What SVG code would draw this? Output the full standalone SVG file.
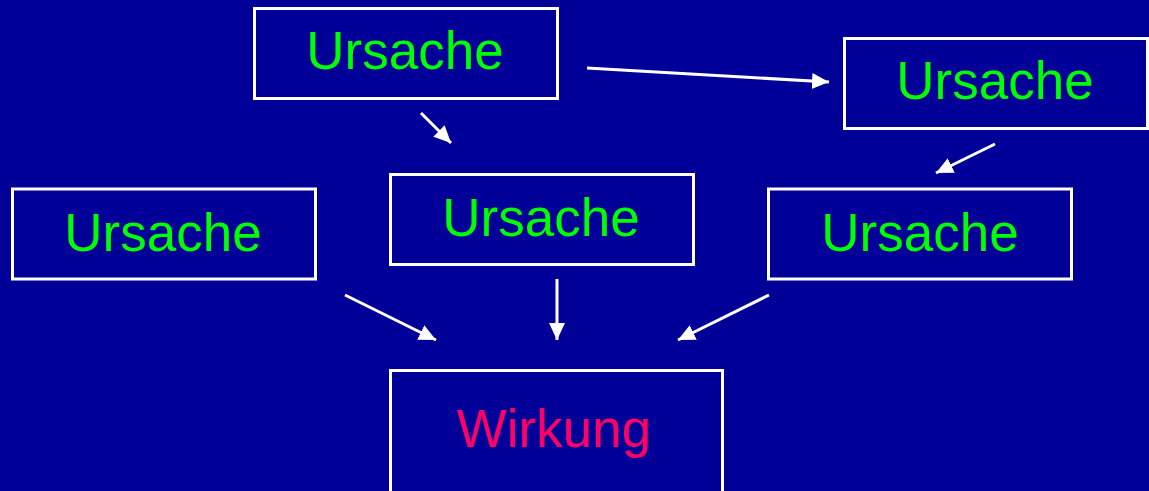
<svg xmlns="http://www.w3.org/2000/svg" width="1149" height="491" viewBox="0 0 1149 491">
<defs>
<style>
.box{fill:none;stroke:#ffffff;stroke-width:3}
.t{font-family:"Liberation Sans",Arial,sans-serif;font-size:53px;text-anchor:middle}
.u{fill:#00ff00}
.w{fill:#ff0066}
.c{stroke:#ffffff;stroke-width:3;fill:none;marker-end:url(#ah)}
</style>
<marker id="ah" markerUnits="userSpaceOnUse" markerWidth="20" markerHeight="18" refX="17" refY="8" orient="auto">
<path d="M0,0 L17,8 L0,16 z" fill="#ffffff"/>
</marker>
</defs>
<rect width="1149" height="491" fill="#000099"/>
<g id="connectors">
<line class="c" x1="587" y1="68" x2="829" y2="82"/>
<line class="c" x1="421" y1="113" x2="451" y2="143"/>
<line class="c" x1="995" y1="144" x2="936" y2="173"/>
<line class="c" x1="345" y1="295" x2="436" y2="340"/>
<line class="c" x1="557" y1="279" x2="557" y2="340"/>
<line class="c" x1="769" y1="295" x2="678" y2="340"/>
</g>
<g id="ursache1"><rect class="box" x="254.5" y="8.5" width="303" height="90"/><text class="t u" x="405" y="69">Ursache</text></g>
<g id="ursache2"><rect class="box" x="844.5" y="38.5" width="303" height="90"/><text class="t u" x="995" y="99">Ursache</text></g>
<g id="ursache3"><rect class="box" x="390.5" y="174.5" width="303" height="90"/><text class="t u" x="541" y="236">Ursache</text></g>
<g id="ursache4"><rect class="box" x="12.5" y="189" width="303" height="90"/><text class="t u" x="163" y="251">Ursache</text></g>
<g id="ursache5"><rect class="box" x="768.5" y="189" width="303" height="90"/><text class="t u" x="920" y="251">Ursache</text></g>
<g id="wirkung"><rect class="box" x="390.5" y="370.5" width="332" height="130"/><text class="t w" x="554" y="447">Wirkung</text></g>
</svg>
